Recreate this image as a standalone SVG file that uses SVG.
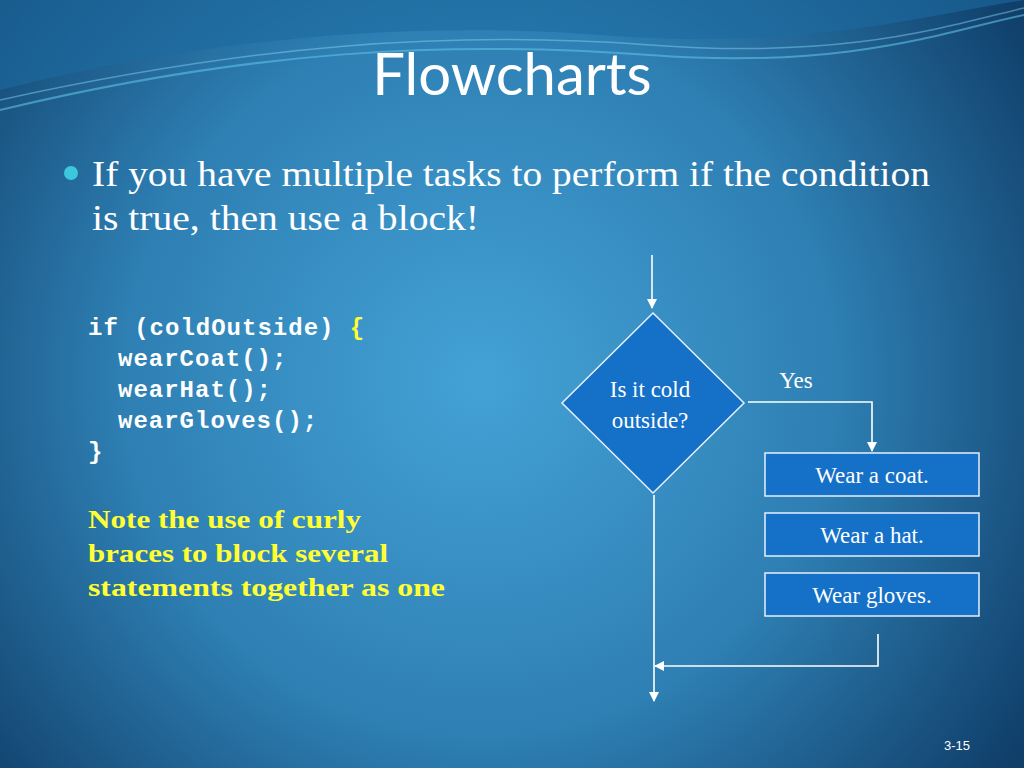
<svg xmlns="http://www.w3.org/2000/svg" width="1024" height="768" viewBox="0 0 1024 768">
<defs>
<radialGradient id="bg" cx="480" cy="380" r="650" gradientUnits="userSpaceOnUse">
<stop offset="0" stop-color="#44a2d6"/><stop offset="0.55" stop-color="#2e7fb3"/><stop offset="1" stop-color="#103f6a"/>
</radialGradient>
<marker id="ah" viewBox="0 0 10 10" refX="9" refY="5" markerWidth="10" markerHeight="10" markerUnits="userSpaceOnUse" orient="auto"><path d="M0,0 L10,5 L0,10 z" fill="#fff"/></marker>
<style>
.ln{stroke:#fff;stroke-width:1.6;fill:none}
.box{fill:#1570c8;stroke:#e6f0fa;stroke-width:1.5}
.lbl{font-family:"Liberation Serif",serif;font-size:23px;fill:#fff;text-anchor:middle}
.code{font-family:"Liberation Mono",monospace;font-weight:bold;font-size:24px;fill:#fff;letter-spacing:1px}
.note{font-family:"Liberation Serif",serif;font-weight:bold;font-size:26px;fill:#ffff33}
</style>
</defs>
<rect width="1024" height="768" fill="url(#bg)"/>
<path d="M0,90 C200,40 400,20 600,35 C800,50 900,20 1024,0 L1024,0 L0,0 z" fill="#1d6aa0" opacity="0.6"/>
<path d="M0,110 C250,50 450,40 650,55 C850,70 950,30 1024,15" stroke="#5fc0e6" stroke-width="2" fill="none" opacity="0.6"/>
<path d="M0,100 C250,45 450,30 650,45 C850,60 950,25 1024,8" stroke="#7fd0ee" stroke-width="1.5" fill="none" opacity="0.5"/>
<text x="512" y="95" font-family="Lato,'Open Sans',sans-serif" font-size="58" fill="#fff" text-anchor="middle">Flowcharts</text>
<circle cx="71" cy="173" r="7" fill="#3cc8dc"/>
<text font-family="'Liberation Serif',serif" font-size="35" fill="#fff"><tspan x="92" y="186" textLength="838" lengthAdjust="spacingAndGlyphs">If you have multiple tasks to perform if the condition</tspan><tspan x="92" y="230" textLength="387" lengthAdjust="spacingAndGlyphs">is true, then use a block!</tspan></text>
<text class="code" x="88" y="335">if (coldOutside) <tspan fill="#ffff33">{</tspan></text>
<text class="code" x="118" y="366">wearCoat();</text>
<text class="code" x="118" y="397">wearHat();</text>
<text class="code" x="118" y="428">wearGloves();</text>
<text class="code" x="88" y="459" fill="#ffff33">}</text>
<text class="note"><tspan x="88" y="528" textLength="273" lengthAdjust="spacingAndGlyphs">Note the use of curly</tspan><tspan x="88" y="562" textLength="300" lengthAdjust="spacingAndGlyphs">braces to block several</tspan><tspan x="88" y="596" textLength="357" lengthAdjust="spacingAndGlyphs">statements together as one</tspan></text>
<g id="connectors">
<line class="ln" x1="652" y1="255" x2="652" y2="308" marker-end="url(#ah)"/>
<polyline class="ln" points="748,402 872,402 872,451" marker-end="url(#ah)"/>
<line class="ln" x1="654" y1="495" x2="654" y2="701" marker-end="url(#ah)"/>
<polyline class="ln" points="878,634 878,666 655,666" marker-end="url(#ah)"/>
<text class="lbl" x="796" y="388">Yes</text>
</g>
<g id="decision"><polygon class="box" points="653,313 744,403 653,493 562,403"/><text class="lbl"><tspan x="650" y="397">Is it cold</tspan><tspan x="650" y="428">outside?</tspan></text></g>
<g id="coat"><rect class="box" x="765" y="453" width="214" height="43"/><text class="lbl" x="872" y="483">Wear a coat.</text></g>
<g id="hat"><rect class="box" x="765" y="513" width="214" height="43"/><text class="lbl" x="872" y="543">Wear a hat.</text></g>
<g id="gloves"><rect class="box" x="765" y="573" width="214" height="43"/><text class="lbl" x="872" y="603">Wear gloves.</text></g>
<text x="957" y="750" font-family="'Liberation Sans',sans-serif" font-size="13" fill="#fff" text-anchor="middle">3-15</text>
</svg>
